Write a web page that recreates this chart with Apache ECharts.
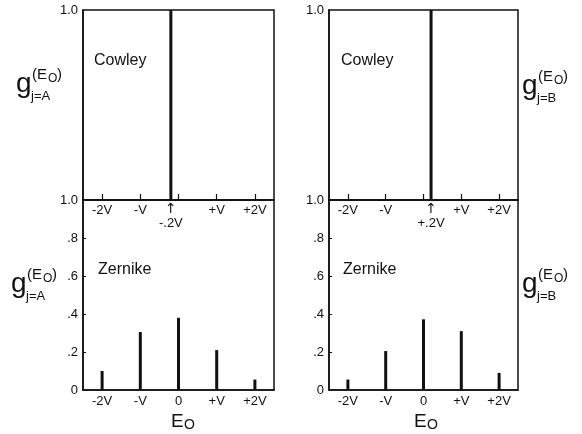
<!DOCTYPE html>
<html>
<head>
<meta charset="utf-8">
<script src="https://cdn.jsdelivr.net/npm/echarts@6/dist/echarts.min.js"></script>
<style>
  html, body { margin: 0; padding: 0; background: #fff; }
  #chart { width: 582px; height: 434px; }
</style>
</head>
<body>
<div id="chart"></div>
<script>
// energy positions, in units of V
var positions = [-2, -1, 0, 1, 2];
var tickLabels = ["-2V", "-V", "0", "+V", "+2V"];
// Cowley: single delta at -.2V (j=A) and +.2V (j=B)
var cowleyA = [[-0.2, 1.0]];
var cowleyB = [[0.2, 1.0]];
// Zernike weights
var zernikeA = [0.10, 0.305, 0.38, 0.21, 0.055];
var zernikeB = [0.055, 0.205, 0.372, 0.31, 0.09];
var yTicks = [0, 0.2, 0.4, 0.6, 0.8, 1.0];

var FONT = "Liberation Sans";
var INK = "#111";

var chart = echarts.init(document.getElementById("chart"));

function fmtY(v) {
  if (v === 0) return "0";
  if (Math.abs(v - 1) < 1e-9) return "1.0";
  return "." + Math.round(v * 10);
}

function zernikeData(vals) {
  var out = [];
  for (var i = 0; i < positions.length; i++) {
    out.push([positions[i], vals[i]]);
  }
  return out;
}

function topX(idx, shift) {
  var label = shift < 0 ? "-.2V" : "+.2V";
  return {
    type: "value", gridIndex: idx, min: -2.5, max: 2.5,
    splitLine: { show: false },
    axisLine: { show: true, onZero: false, lineStyle: { color: INK, width: 1.5 } },
    axisTick: { show: true, inside: true, length: 6, customValues: positions,
      lineStyle: { color: INK, width: 1.2 } },
    axisLabel: {
      show: true, margin: 4, color: INK, fontFamily: FONT, fontSize: 13,
      customValues: [-2, -1, shift, 1, 2],
      formatter: function (v) {
        if (Math.abs(v - shift) < 1e-9) return "{arr|↑}\n{v|" + label + "}";
        return tickLabels[positions.indexOf(v)];
      },
      rich: {
        arr: { fontSize: 14, lineHeight: 10, color: INK, fontFamily: "DejaVu Sans" },
        v: { fontSize: 13, lineHeight: 19, color: INK, fontFamily: FONT }
      }
    }
  };
}

function bottomX(idx) {
  return {
    type: "value", gridIndex: idx, min: -2.5, max: 2.5,
    splitLine: { show: false },
    axisLine: { show: true, onZero: false, lineStyle: { color: INK, width: 1.5 } },
    axisTick: { show: false },
    axisLabel: {
      show: true, margin: 5, color: INK, fontFamily: FONT, fontSize: 13,
      customValues: positions,
      formatter: function (v) { return tickLabels[positions.indexOf(v)]; }
    }
  };
}

function topY(idx) {
  return {
    type: "value", gridIndex: idx, min: 0, max: 1,
    splitLine: { show: false },
    axisLine: { show: true, onZero: false, lineStyle: { color: INK, width: 1.5 } },
    axisTick: { show: false },
    axisLabel: { show: true, margin: 5, color: INK, fontFamily: FONT, fontSize: 13,
      customValues: [1], formatter: fmtY }
  };
}

function bottomY(idx) {
  return {
    type: "value", gridIndex: idx, min: 0, max: 1,
    splitLine: { show: false },
    axisLine: { show: true, onZero: false, lineStyle: { color: INK, width: 1.5 } },
    axisTick: { show: true, inside: true, length: 3, customValues: [0.2, 0.4, 0.6, 0.8],
      lineStyle: { color: INK } },
    axisLabel: { show: true, margin: 5, color: INK, fontFamily: FONT, fontSize: 13,
      customValues: yTicks, formatter: fmtY }
  };
}

function barSeries(idx, data, w) {
  return {
    type: "bar", xAxisIndex: idx, yAxisIndex: idx,
    data: data, barWidth: w, silent: true,
    itemStyle: { color: INK }
  };
}

// g_{j=X}^{(E_O)} label
function gLabel(x, y, sub) {
  return {
    type: "group", x: x, y: y,
    children: [
      { type: "text", x: 0, y: 0, style: { text: "g", fontFamily: FONT, fontSize: 28, fill: INK } },
      { type: "text", x: 16, y: -3, style: { text: "(E", fontFamily: FONT, fontSize: 15, fill: INK } },
      { type: "text", x: 32, y: 3, style: { text: "O", fontFamily: FONT, fontSize: 12, fill: INK } },
      { type: "text", x: 41, y: -3, style: { text: ")", fontFamily: FONT, fontSize: 15, fill: INK } },
      { type: "text", x: 15, y: 20, style: { text: "j=" + sub, fontFamily: FONT, fontSize: 13, fill: INK } }
    ]
  };
}

function eLabel(x, y) {
  return {
    type: "group", x: x, y: y,
    children: [
      { type: "text", x: 0, y: 0, style: { text: "E", fontFamily: FONT, fontSize: 19, fill: INK } },
      { type: "text", x: 13, y: 6, style: { text: "O", fontFamily: FONT, fontSize: 14, fill: INK } }
    ]
  };
}

function note(text, x, y) {
  return { type: "text", x: x, y: y, style: { text: text, fontFamily: FONT, fontSize: 16, fill: INK } };
}

var gridBase = { show: true, borderColor: INK, borderWidth: 1.5, backgroundColor: "transparent" };

chart.setOption({
  animation: false,
  backgroundColor: "#fff",
  grid: [
    Object.assign({ left: 83, top: 10, width: 191, height: 190 }, gridBase),
    Object.assign({ left: 83, top: 200, width: 191, height: 190 }, gridBase),
    Object.assign({ left: 329, top: 10, width: 189, height: 190 }, gridBase),
    Object.assign({ left: 329, top: 200, width: 189, height: 190 }, gridBase)
  ],
  xAxis: [topX(0, -0.2), bottomX(1), topX(2, 0.2), bottomX(3)],
  yAxis: [topY(0), bottomY(1), topY(2), bottomY(3)],
  series: [
    barSeries(0, cowleyA, 3),
    barSeries(1, zernikeData(zernikeA), 3),
    barSeries(2, cowleyB, 3),
    barSeries(3, zernikeData(zernikeB), 3)
  ],
  graphic: [
    note("Cowley", 94, 53),
    note("Zernike", 98, 262),
    note("Cowley", 341, 53),
    note("Zernike", 343, 262),
    gLabel(16, 70, "A"),
    gLabel(11, 270, "A"),
    gLabel(522, 72, "B"),
    gLabel(522, 270, "B"),
    eLabel(171, 412),
    eLabel(414, 412)
  ]
});
</script>
</body>
</html>
